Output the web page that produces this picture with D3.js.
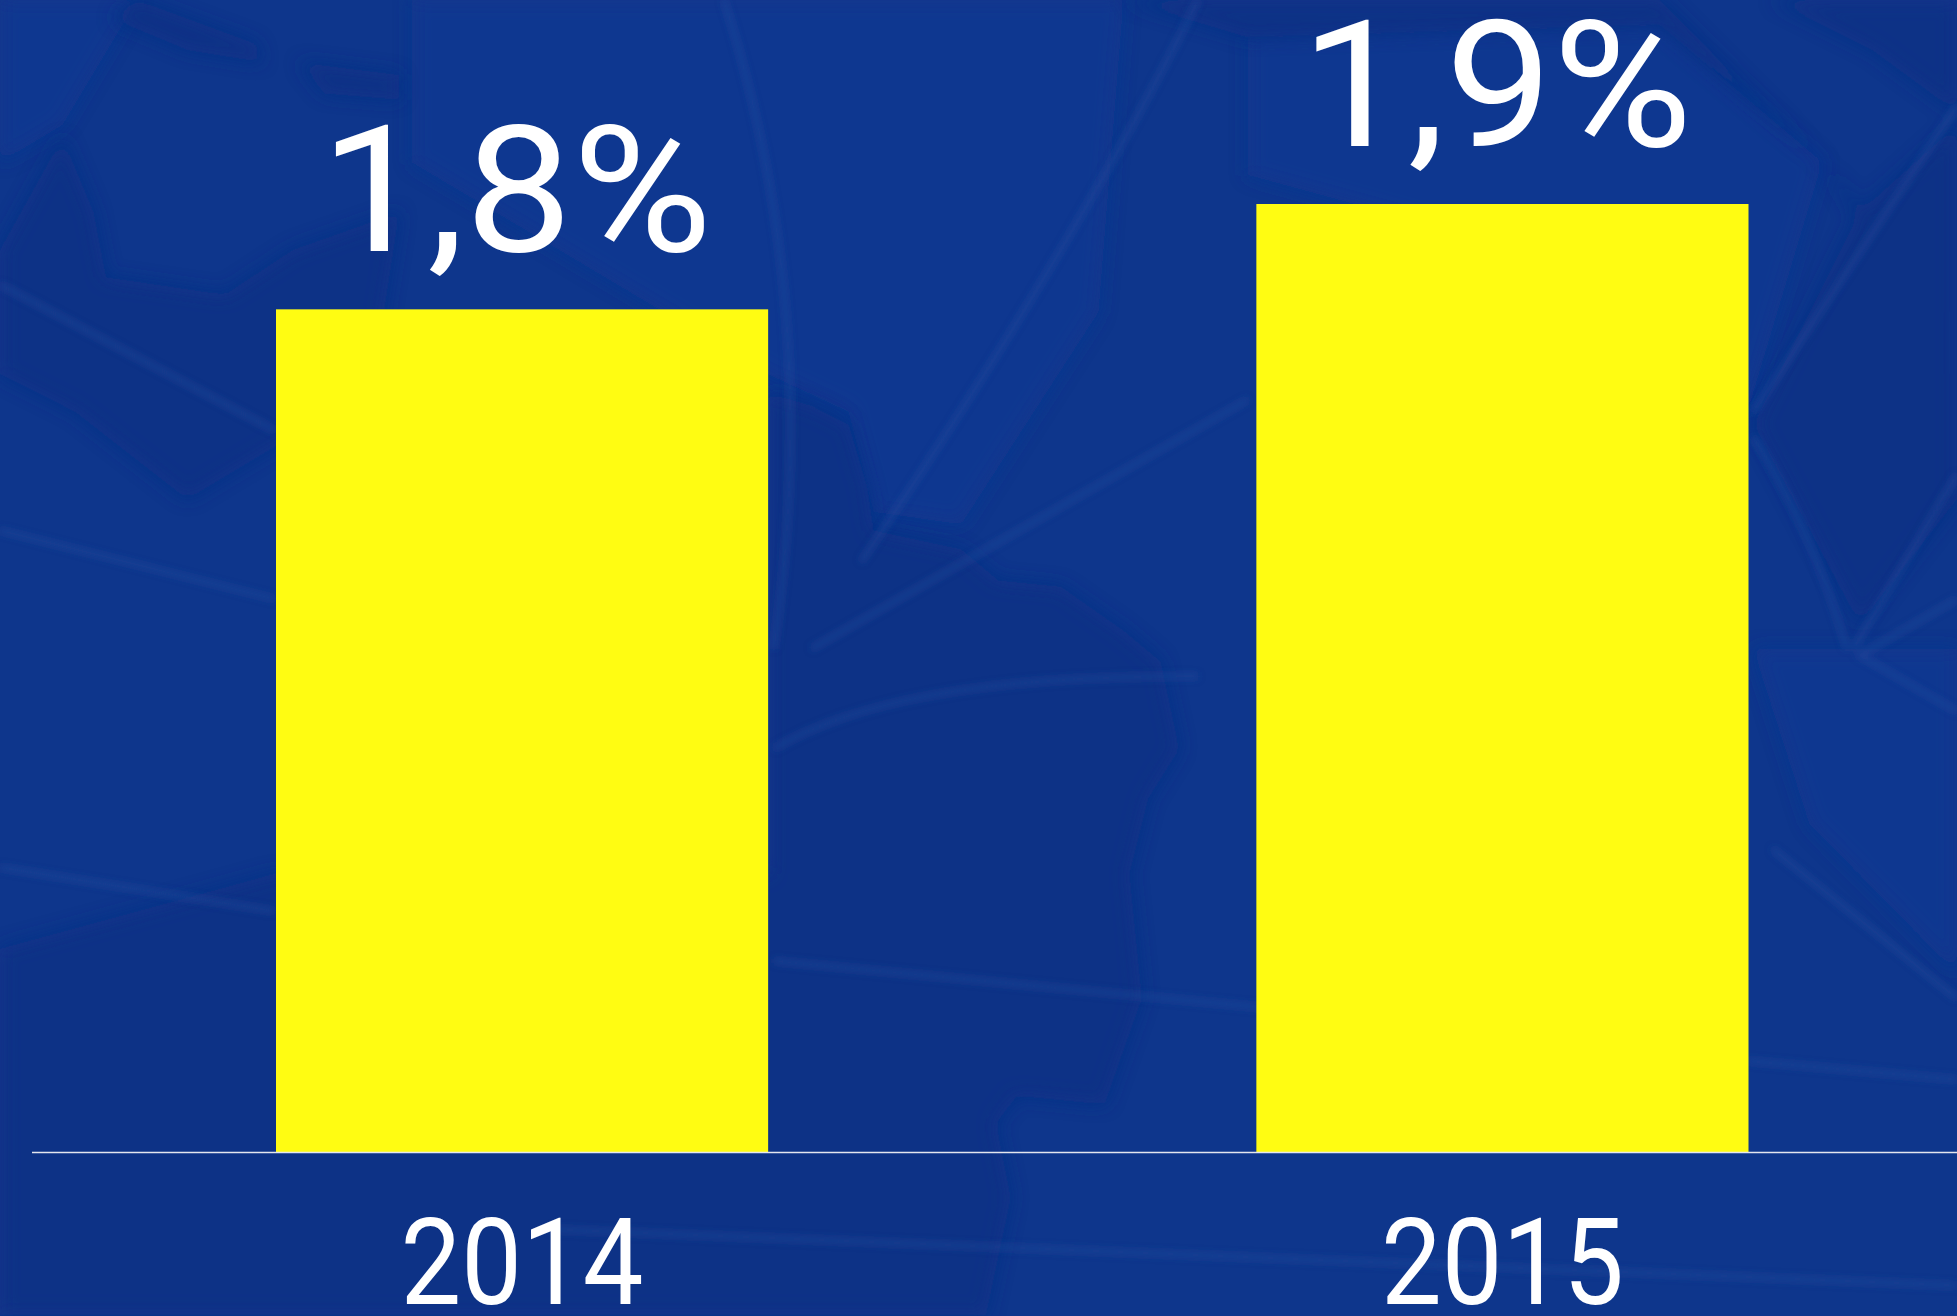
<!DOCTYPE html>
<html><head><meta charset="utf-8">
<script src="https://cdn.jsdelivr.net/npm/d3@7"></script>
<style>html,body{margin:0;padding:0;background:#0b3187;overflow:hidden}svg{display:block}text{font-family:Roboto,sans-serif;fill:#fff}</style>
</head><body><div id="chart"></div>
<script>
const years = ["2014", "2015"];
const values = [1.8, 1.9];
const W = 1957, H = 1316;

// Faint map backdrop, in the coordinates of the shrunk 1568-wide view
const darkShapes = [
 "M616,315 L650,325 680,340 695,390 700,425 770,440 800,465 850,470 900,505 930,530 945,600 920,640 905,700 915,800 885,885 815,878 798,900 810,960 790,1054 0,1054 0,760 220,700 616,700Z",
 "M50,110 L75,170 85,222 180,236 235,200 320,170 300,300 250,340 150,400 60,330 0,300 0,200Z",
 "M110,0 L205,35 210,50 150,40 90,15Z",
 "M240,50 L320,60 320,80 260,75Z",
 "M900,0 L1330,0 1440,110 1568,250 1568,300 1460,130 1330,20 1000,30Z",
 "M1405,340 L1490,170 1568,100 1568,400 1490,500Z",
 "M1420,0 L1568,0 1568,90 1500,40Z"
];
const lightShapes = [
 "M330,0 L900,0 880,250 770,420 700,410 680,330 616,300 330,130Z",
 "M0,0 L110,0 50,100 0,130Z",
 "M1000,30 L1330,20 1460,130 1400,330 1220,200 1000,140Z",
 "M1405,520 L1568,520 1568,780 1450,660Z"
];
const faintLines = [
 "M0,228 L220,345","M0,425 L220,480","M0,695 L220,730",
 "M580,0 Q660,250 620,520","M960,0 Q860,200 690,450","M1000,320 L650,520",
 "M620,600 Q720,540 960,542","M620,770 L1040,810","M440,985 L1568,1030",
 "M1568,85 L1405,330","M1405,350 Q1450,420 1480,520","M1568,380 L1485,520",
 "M1568,480 L1490,525 1568,570","M1420,680 L1568,800","M1400,850 L1568,865"
];

const svg = d3.select("#chart").append("svg").attr("width", W).attr("height", H);
const defs = svg.append("defs");
defs.append("filter").attr("id", "b1").attr("x", "-20%").attr("y", "-20%").attr("width", "140%").attr("height", "140%")
  .append("feGaussianBlur").attr("stdDeviation", 7);
defs.append("filter").attr("id", "b2").attr("x", "-20%").attr("y", "-20%").attr("width", "140%").attr("height", "140%")
  .append("feGaussianBlur").attr("stdDeviation", 3);

svg.append("rect").attr("width", W).attr("height", H).attr("fill", "#0e368c");
const bg = svg.append("g").attr("transform", "scale(1.248)");
bg.append("g").attr("filter", "url(#b1)").selectAll("path").data(lightShapes).join("path")
  .attr("d", d => d).attr("fill", "#133a91").attr("opacity", .8);
bg.append("g").attr("filter", "url(#b1)").selectAll("path").data(darkShapes).join("path")
  .attr("d", d => d).attr("fill", "#0a3086");
bg.append("g").attr("filter", "url(#b2)").selectAll("path").data(faintLines).join("path")
  .attr("d", d => d).attr("fill", "none").attr("stroke", "#2a4f9f").attr("stroke-width", 4).attr("opacity", .5);

const x = d3.scaleBand().domain(years).range([276, 1748.5]).paddingInner(.498).paddingOuter(0);
const y = d3.scaleLinear().domain([1, 1.9]).range([1152, 204]);
const fmt = d3.formatLocale({decimal: ",", thousands: ".", grouping: [3], currency: ["", ""]}).format(".1f");

svg.selectAll("rect.bar").data(values).join("rect").attr("class", "bar")
  .attr("x", (d, i) => x(years[i])).attr("width", x.bandwidth())
  .attr("y", d => y(d)).attr("height", d => y(1) - y(d)).attr("fill", "#fffc12");

const axis = svg.append("g").attr("transform", `translate(0,${y(1)})`)
  .call(d3.axisBottom(x).tickSize(0).tickPadding(0));
axis.select(".domain").attr("d", `M32,0.5H${W}`).attr("stroke", "#e4e6ee").attr("stroke-width", 1.5);
axis.selectAll(".tick text").attr("y", 152).attr("dy", 0)
  .attr("font-size", 120).attr("font-family", "Roboto, sans-serif").attr("fill", "#fff")
  .attr("textLength", 243).attr("lengthAdjust", "spacingAndGlyphs");

svg.selectAll("text.val").data(values).join("text").attr("class", "val")
  .attr("x", (d, i) => x(years[i]) + x.bandwidth() / 2 - 6)
  .attr("y", d => y(d) - 58)
  .attr("text-anchor", "middle").attr("font-size", 176)
  .attr("textLength", 392).attr("lengthAdjust", "spacingAndGlyphs")
  .text(d => fmt(d) + "%");
</script></body></html>
